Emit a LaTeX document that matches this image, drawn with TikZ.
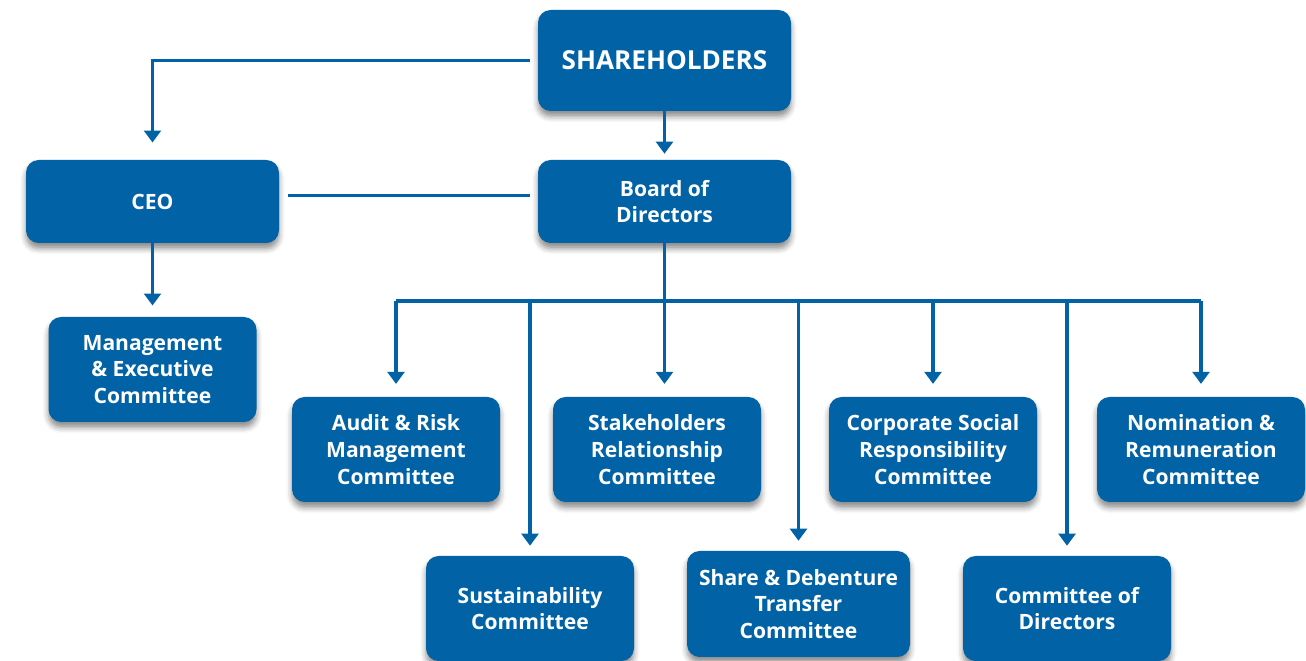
\documentclass[tikz,border=0pt]{standalone}
\usepackage{fontspec}
\setmainfont{Open Sans}
\usetikzlibrary{arrows.meta,positioning,shadows.blur}
\definecolor{corpblue}{RGB}{1,99,166}

\begin{document}
\begin{tikzpicture}[
  unit/.style={fill=corpblue,rectangle,rounded corners=9pt,align=center,
               text=white,font=\fontsize{15}{19}\selectfont\bfseries,
               minimum width=5.2cm,minimum height=2.625cm,inner sep=2pt,
               blur shadow={shadow xshift=0pt,shadow yshift=-4pt,shadow blur radius=4pt,shadow opacity=45}},
  topunit/.style={unit,minimum width=6.325cm,minimum height=2.075cm},
  link/.style={draw=corpblue,line width=2.2pt},
  arr/.style={link,-{Triangle[width=0.42cm,length=0.3cm]}}
]
  \useasboundingbox (0,0) rectangle (32.65,16.525);

  % top of the chart
  \node[topunit,minimum height=2.525cm,font=\fontsize{18.6}{22}\selectfont\bfseries]
       (share) at (16.6125,15.0125) {SHAREHOLDERS};
  \node[topunit] (board) at (16.6125,11.4875) {Board of\\Directors};
  \node[topunit] (ceo)   at ( 3.8125,11.4875) {CEO};
  \node[unit]    (mgmt)  at ( 3.8125, 7.2875) {Management\\\& Executive\\Committee};

  % committees, first row
  \node[unit] (audit) at ( 9.9  ,5.2875) {Audit \& Risk\\Management\\Committee};
  \node[unit] (stake) at (16.425,5.2875) {Stakeholders\\Relationship\\Committee};
  \node[unit] (csr)   at (23.325,5.2875) {Corporate Social\\Responsibility\\Committee};
  \node[unit] (nom)   at (30.025,5.2875) {Nomination \&\\Remuneration\\Committee};

  % committees, second row
  \node[unit] (sust) at (13.25  ,1.3125) {Sustainability\\Committee};
  \node[unit,minimum width=5.575cm,minimum height=2.65cm]
              (sdt)  at (19.9625,1.425) {Share \& Debenture\\Transfer\\Committee};
  \node[unit] (cod)  at (26.675 ,1.3125) {Committee of\\Directors};

  \coordinate (bus) at (16.6,9.0);

  % connectors
  \draw[arr] ([xshift=-2mm]share.west) -| ([yshift=4.3mm]ceo.north);
  \draw[arr] (share.south) -- ([yshift=1.5mm]board.north);
  \draw[link] ([xshift=2.2mm,yshift=1.4mm]ceo.east) -- ([xshift=-2mm,yshift=1.4mm]board.west);
  \draw[arr] (ceo.south) -- ([yshift=2.8mm]mgmt.north);

  \draw[arr] (board.south) -- ([yshift=3.2mm]board.south |- stake.north);
  \draw[link] (audit.north |- bus) -- (nom.north |- bus);
  \foreach \n in {audit,csr,nom}
    \draw[arr] (\n.north |- bus) -- ([yshift=3.2mm]\n.north);
  \foreach \n in {sust,sdt,cod}
    \draw[arr] (\n.north |- bus) -- ([yshift=2.5mm]\n.north);
\end{tikzpicture}
\end{document}
